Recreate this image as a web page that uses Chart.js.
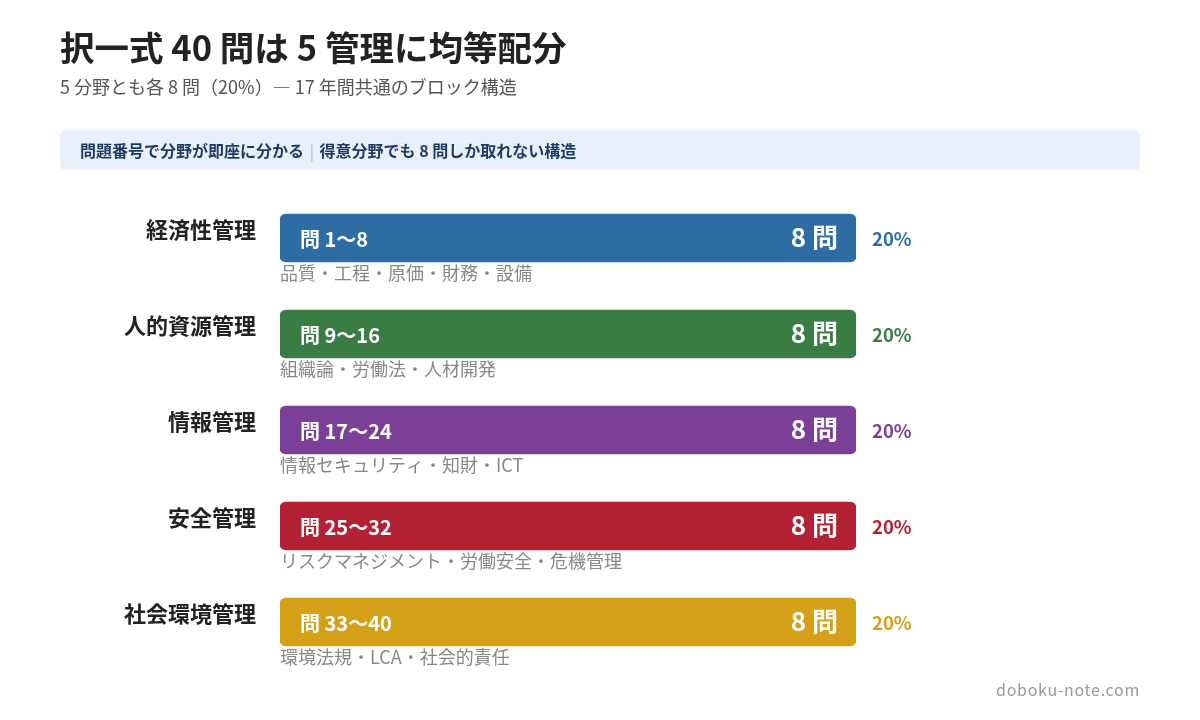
<!DOCTYPE html>
<html lang="ja">
<head>
<meta charset="utf-8">
<script src="https://cdn.jsdelivr.net/npm/chart.js@4.4.1/dist/chart.umd.min.js"></script>
<style>
  html, body { margin: 0; padding: 0; background: #ffffff; }
  body { width: 1200px; height: 720px; position: relative; overflow: hidden;
         font-family: "Noto Sans CJK JP", "Noto Sans", sans-serif; }
  #title { position: absolute; left: 60px; top: 22px; font-size: 34.5px; font-weight: 700; color: #222; line-height: 48px; white-space: nowrap; }
  #subtitle { position: absolute; left: 60px; top: 73px; font-size: 18px; color: #555; line-height: 26px; white-space: nowrap; }
  #info { position: absolute; left: 60px; top: 130px; width: 1080px; height: 40px; background: #e8f0fb; border-radius: 6px; }
  #info span.t { position: absolute; left: 20px; top: 0; line-height: 40px; font-size: 16px; font-weight: 700; color: #1f3a5f; white-space: nowrap; }
  #info .sep { color: #b0bccc; font-weight: 400; padding: 0 2px; }
  #footer { position: absolute; right: 60px; top: 677px; font-size: 16px; color: #999; line-height: 24px; letter-spacing: 0.7px; }
  #wrap { position: absolute; left: 0; top: 0; width: 1200px; height: 720px; }
</style>
</head>
<body>
<div id="wrap"><canvas id="c" width="1200" height="720"></canvas></div>
<div id="title">択一式 40 問は 5 管理に均等配分</div>
<div id="subtitle">5 分野とも各 8 問（20%）— 17 年間共通のブロック構造</div>
<div id="info"><span class="t">問題番号で分野が即座に分かる <span class="sep">|</span> 得意分野でも 8 問しか取れない構造</span></div>
<div id="footer">doboku-note.com</div>
<script>
const categories = ["経済性管理", "人的資源管理", "情報管理", "安全管理", "社会環境管理"];
const questionCounts = [8, 8, 8, 8, 8];
const questionRanges = ["問 1〜8", "問 9〜16", "問 17〜24", "問 25〜32", "問 33〜40"];
const shareLabels = ["20%", "20%", "20%", "20%", "20%"];
const topics = [
  "品質・工程・原価・財務・設備",
  "組織論・労働法・人材開発",
  "情報セキュリティ・知財・ICT",
  "リスクマネジメント・労働安全・危機管理",
  "環境法規・LCA・社会的責任"
];
const barColors = ["#2e6da4", "#3a7d44", "#7b3f98", "#b22234", "#d4a017"];
const FONT = '"Noto Sans CJK JP", "Noto Sans", sans-serif';

const labelPlugin = {
  id: 'rowLabels',
  afterDatasetsDraw(chart) {
    const ctx = chart.ctx;
    const meta = chart.getDatasetMeta(0);
    const xs = chart.scales.x;
    ctx.save();
    meta.data.forEach((bar, i) => {
      const yc = bar.y;
      const half = bar.height / 2;
      const x0 = xs.getPixelForValue(0);
      const x1 = bar.x;
      ctx.textBaseline = 'middle';
      // category label
      ctx.font = '700 22px ' + FONT;
      ctx.fillStyle = '#222';
      ctx.textAlign = 'right';
      ctx.fillText(categories[i], x0 - 24, yc - 8);
      // range inside bar
      ctx.font = '700 20px ' + FONT;
      ctx.fillStyle = '#ffffff';
      ctx.textAlign = 'left';
      ctx.fillText(questionRanges[i], x0 + 20, yc + 1);
      // count inside bar right
      ctx.font = '700 26px ' + FONT;
      ctx.textAlign = 'right';
      ctx.fillText(questionCounts[i] + ' 問', x1 - 18, yc - 1);
      // share label
      ctx.font = '700 18.5px ' + FONT;
      ctx.fillStyle = barColors[i];
      ctx.textAlign = 'left';
      ctx.fillText(shareLabels[i], x1 + 16, yc + 1);
      // topics
      ctx.font = '400 18px ' + FONT;
      ctx.fillStyle = '#888';
      ctx.fillText(topics[i], x0, yc + half + 11);
    });
    ctx.restore();
  }
};

new Chart(document.getElementById('c'), {
  type: 'bar',
  data: {
    labels: categories,
    datasets: [{
      data: questionCounts,
      backgroundColor: barColors,
      borderRadius: 6,
      borderSkipped: false,
      barThickness: 48
    }]
  },
  options: {
    indexAxis: 'y',
    responsive: false,
    animation: false,
    devicePixelRatio: 1,
    layout: { padding: { left: 280, right: 344, top: 190, bottom: 50 } },
    plugins: { legend: { display: false }, tooltip: { enabled: false } },
    scales: {
      x: { display: false, min: 0, max: 8 },
      y: { display: false }
    }
  },
  plugins: [labelPlugin]
});
</script>
</body>
</html>
